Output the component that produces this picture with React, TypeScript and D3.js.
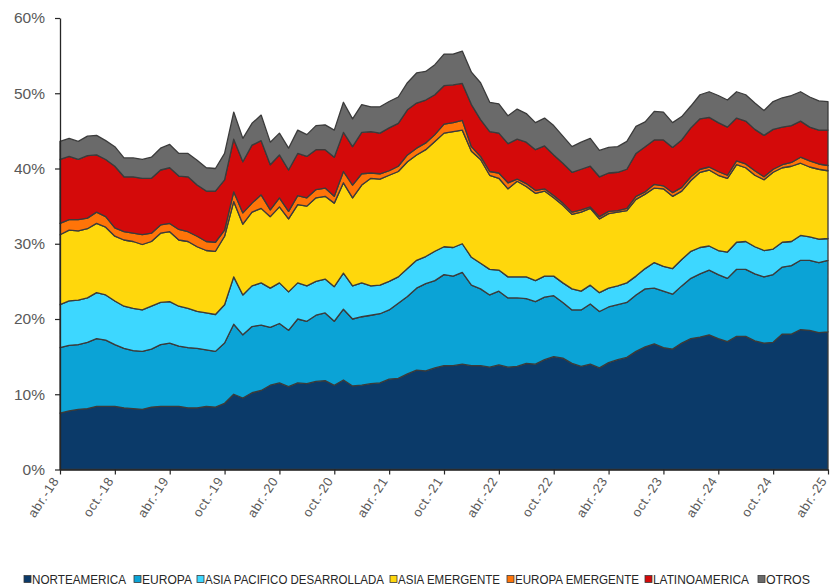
import React, { useRef, useEffect } from "react";
import * as d3 from "d3";

// monthly shares (%), abr-18 .. abr-25
const norteamerica = [7.5,7.8,8.0,8.1,8.4,8.4,8.4,8.2,8.1,8.0,8.3,8.4,8.4,8.4,8.2,8.2,8.4,8.3,8.8,10.0,9.5,10.2,10.5,11.2,11.5,11.0,11.5,11.4,11.7,11.8,11.2,11.9,11.1,11.2,11.4,11.5,12.0,12.1,12.7,13.2,13.1,13.5,13.8,13.8,14.0,13.8,13.8,13.6,13.9,13.6,13.7,14.1,14.0,14.6,15.0,14.8,14.1,13.7,14.0,13.5,14.2,14.6,14.9,15.7,16.3,16.7,16.2,16.0,16.8,17.4,17.6,17.9,17.4,17.0,17.7,17.7,17.1,16.8,16.9,18.0,18.0,18.6,18.5,18.2,18.3];
const europa = [8.7,8.7,8.6,8.8,9.0,8.8,8.2,7.9,7.7,7.7,7.7,8.2,8.4,8.0,8.0,7.9,7.5,7.4,8.0,9.3,8.4,8.8,8.7,7.7,7.9,7.5,8.5,8.3,8.8,9.0,8.5,9.4,8.9,9.1,9.1,9.2,9.2,10.0,10.3,10.9,11.6,11.6,12.1,11.9,12.2,10.7,10.2,9.6,9.8,9.2,9.1,8.6,8.3,8.3,8.1,7.4,7.1,7.5,8.0,7.5,7.4,7.3,7.3,7.5,7.7,7.4,7.5,7.3,7.6,8.0,8.4,8.6,8.5,8.4,8.9,8.9,8.9,8.8,9.0,8.9,9.1,9.2,9.3,9.3,9.5];
const asiaPacDes = [5.7,5.9,5.9,5.9,6.1,6.0,5.8,5.6,5.6,5.5,5.7,5.6,5.5,5.3,5.2,4.9,4.9,4.9,5.1,6.3,5.3,5.4,5.6,5.2,5.4,5.1,4.8,4.7,4.5,4.5,4.6,4.8,4.4,4.5,3.9,3.8,3.8,3.5,3.7,3.7,3.6,3.9,3.7,3.8,3.8,3.7,3.4,3.4,2.8,2.8,2.8,2.9,2.8,2.8,2.6,2.6,2.8,2.5,2.5,2.5,2.5,2.5,2.6,2.5,2.7,3.4,3.3,3.4,3.5,3.6,3.5,3.2,3.2,3.5,3.6,3.7,3.6,3.5,3.4,3.3,3.2,3.3,3.1,3.1,2.9];
const asiaEmergente = [9.3,9.4,9.2,9.2,9.2,9.0,8.6,8.8,8.9,8.7,8.6,9.2,9.3,8.8,8.9,8.6,8.3,8.4,9.1,10.0,9.4,9.8,9.9,9.5,10.1,9.7,10.4,10.6,11.1,11.0,11.1,12.0,11.7,13.0,14.3,14.1,14.1,14.0,14.2,14.0,14.2,14.6,15.1,15.4,15.1,14.1,13.8,12.5,12.2,11.7,12.7,12.0,11.6,11.3,10.4,10.3,9.9,10.5,10.2,9.8,9.9,9.8,9.6,10.2,9.9,9.9,10.3,9.6,9.1,9.4,10.0,10.1,10.0,9.8,10.3,9.8,9.5,9.4,10.2,9.9,10.0,9.6,9.3,9.3,9.0];
const europaEmergente = [1.5,1.4,1.5,1.4,1.5,1.4,1.1,1.1,1.1,1.3,1.1,1.1,1.1,1.4,1.3,1.4,1.2,1.2,0.8,1.3,1.5,1.2,1.8,0.9,1.2,1.0,1.2,1.1,1.1,1.1,0.9,1.5,1.7,1.5,0.7,0.7,0.6,0.7,0.9,0.9,0.9,0.9,1.2,1.2,1.3,0.6,0.4,0.5,0.7,0.8,0.3,0.4,0.4,0.3,0.3,0.3,0.3,0.3,0.2,0.3,0.3,0.2,0.3,0.4,0.3,0.5,0.4,0.5,0.5,0.5,0.4,0.4,0.5,0.4,0.5,0.5,0.6,0.4,0.4,0.4,0.5,0.8,0.8,0.7,0.7];
const latinoamerica = [8.5,8.4,8.0,8.3,7.6,7.6,8.2,7.3,7.5,7.5,7.3,7.3,7.4,7.1,7.3,6.8,6.7,6.8,6.7,7.0,6.8,7.7,7.2,6.0,5.7,5.5,5.6,5.5,5.3,5.1,5.2,5.2,5.1,5.5,5.5,5.4,5.7,5.7,6.0,6.0,5.7,5.3,5.1,5.0,4.9,5.6,4.9,5.3,5.3,5.2,5.3,5.5,5.4,5.7,5.4,5.3,5.3,5.4,5.4,5.3,5.1,5.1,5.2,5.7,6.0,5.9,6.1,6.0,6.3,6.5,6.7,6.6,6.5,6.4,5.7,5.7,5.5,5.5,5.3,5.0,4.9,4.8,4.5,4.5,4.7];
const otros = [2.4,2.4,2.4,2.6,2.6,2.5,2.6,2.5,2.5,2.5,2.8,2.9,3.1,3.0,3.1,3.3,3.1,3.0,3.5,3.6,3.1,2.9,3.4,3.0,2.9,2.9,3.1,2.9,3.2,3.3,3.6,4.0,3.7,3.7,3.3,3.5,3.5,3.5,3.6,4.0,3.8,4.0,4.2,4.1,4.3,4.3,4.9,3.9,3.9,3.7,4.0,3.8,3.6,3.7,3.9,3.6,3.4,3.6,3.7,3.5,3.4,3.4,3.7,3.6,3.3,3.8,3.7,3.3,3.1,2.9,3.2,3.4,3.6,3.6,3.5,3.5,3.5,3.3,3.7,3.9,4.0,3.9,4.0,3.9,3.8];

const seriesNames = ["NORTEAMERICA", "EUROPA", "ASIA PACIFICO DESARROLLADA", "ASIA EMERGENTE", "EUROPA EMERGENTE", "LATINOAMERICA", "OTROS"];
const seriesColors = ["#0b3a69", "#0ba3d6", "#3dd7ff", "#ffd70c", "#ff7408", "#d40a0a", "#6a6a6a"];
const tickLabels = ["abr.-18", "oct.-18", "abr.-19", "oct.-19", "abr.-20", "oct.-20", "abr.-21", "oct.-21", "abr.-22", "oct.-22", "abr.-23", "oct.-23", "abr.-24", "oct.-24", "abr.-25"];
const yTicks = [0, 10, 20, 30, 40, 50, 60];

const legendX = [24, 134, 197, 390, 507, 645, 758];
const legendW = [94, 50, 179, 102, 124, 96, 44];

export default function App() {
  const ref = useRef<SVGSVGElement>(null);

  useEffect(() => {
    const svg = d3.select(ref.current);
    svg.selectAll("*").remove();

    const allSeries = [norteamerica, europa, asiaPacDes, asiaEmergente, europaEmergente, latinoamerica, otros];
    const rows = norteamerica.map((_, i) => {
      const r: any = { idx: i };
      seriesNames.forEach((name, k) => (r[name] = allSeries[k][i]));
      return r;
    });
    const n = rows.length;

    const x = d3.scaleLinear().domain([0, n - 1]).range([60, 828]);
    const y = d3.scaleLinear().domain([0, 60]).range([469.5, 18]);

    const stacked = d3.stack().keys(seriesNames)(rows);

    const area = d3.area<any>()
      .x((d) => x(d.data.idx))
      .y0((d) => y(d[0]))
      .y1((d) => y(d[1]));

    svg.append("g")
      .selectAll("path")
      .data(stacked)
      .enter()
      .append("path")
      .attr("d", area)
      .attr("fill", (d, i) => seriesColors[i])
      .attr("stroke", "#3b3b3b")
      .attr("stroke-width", 1.3)
      .attr("stroke-linejoin", "round");

    // y axis
    const yAxis = svg.append("g")
      .attr("transform", "translate(60,0)")
      .call(d3.axisLeft(y).tickValues(yTicks).tickFormat((d) => d + "%").tickSize(5).tickSizeOuter(0));
    yAxis.select(".domain").attr("stroke", "#262626").attr("stroke-width", 1.3);
    yAxis.selectAll(".tick line").attr("stroke", "#262626").attr("stroke-width", 1.2);
    yAxis.selectAll(".tick text")
      .attr("x", -15)
      .attr("fill", "#595959")
      .style("font-family", "'Liberation Sans', Arial, sans-serif")
      .style("font-size", "15.5px");

    // x axis
    const xTickVals = tickLabels.map((_, i) => i * 6);
    const xAxis = svg.append("g")
      .attr("transform", "translate(0,469.5)")
      .call(d3.axisBottom(x).tickValues(xTickVals).tickFormat((d, i) => tickLabels[i]).tickSize(5).tickSizeOuter(0));
    xAxis.select(".domain").attr("stroke", "#262626").attr("stroke-width", 1.3);
    xAxis.selectAll(".tick line").attr("stroke", "#262626").attr("stroke-width", 1.2);
    xAxis.selectAll(".tick text")
      .attr("fill", "#595959")
      .attr("text-anchor", "end")
      .attr("dy", null)
      .attr("y", 0)
      .attr("x", 0)
      .attr("transform", "translate(-1,11) rotate(-57)")
      .style("font-family", "'Liberation Sans', Arial, sans-serif")
      .style("font-size", "13px")
      .style("letter-spacing", "0.7px");

    // legend
    const legend = svg.append("g");
    seriesNames.forEach((name, i) => {
      legend.append("rect")
        .attr("x", legendX[i])
        .attr("y", 575.5)
        .attr("width", 7)
        .attr("height", 7)
        .attr("fill", seriesColors[i])
        .attr("stroke", "#3b3b3b")
        .attr("stroke-width", 0.8);
      legend.append("text")
        .attr("x", legendX[i] + 8)
        .attr("y", 583.5)
        .attr("textLength", legendW[i])
        .attr("lengthAdjust", "spacingAndGlyphs")
        .attr("fill", "#262626")
        .style("font-family", "'Liberation Sans Narrow', 'Liberation Sans', Arial, sans-serif")
        .style("font-size", "12.5px")
        .text(name);
    });
  }, []);

  return (
    <div style={{ position: "absolute", left: 0, top: 0 }}>
      <svg ref={ref} width={830} height={588} style={{ display: "block", background: "#fff" }} />
    </div>
  );
}
